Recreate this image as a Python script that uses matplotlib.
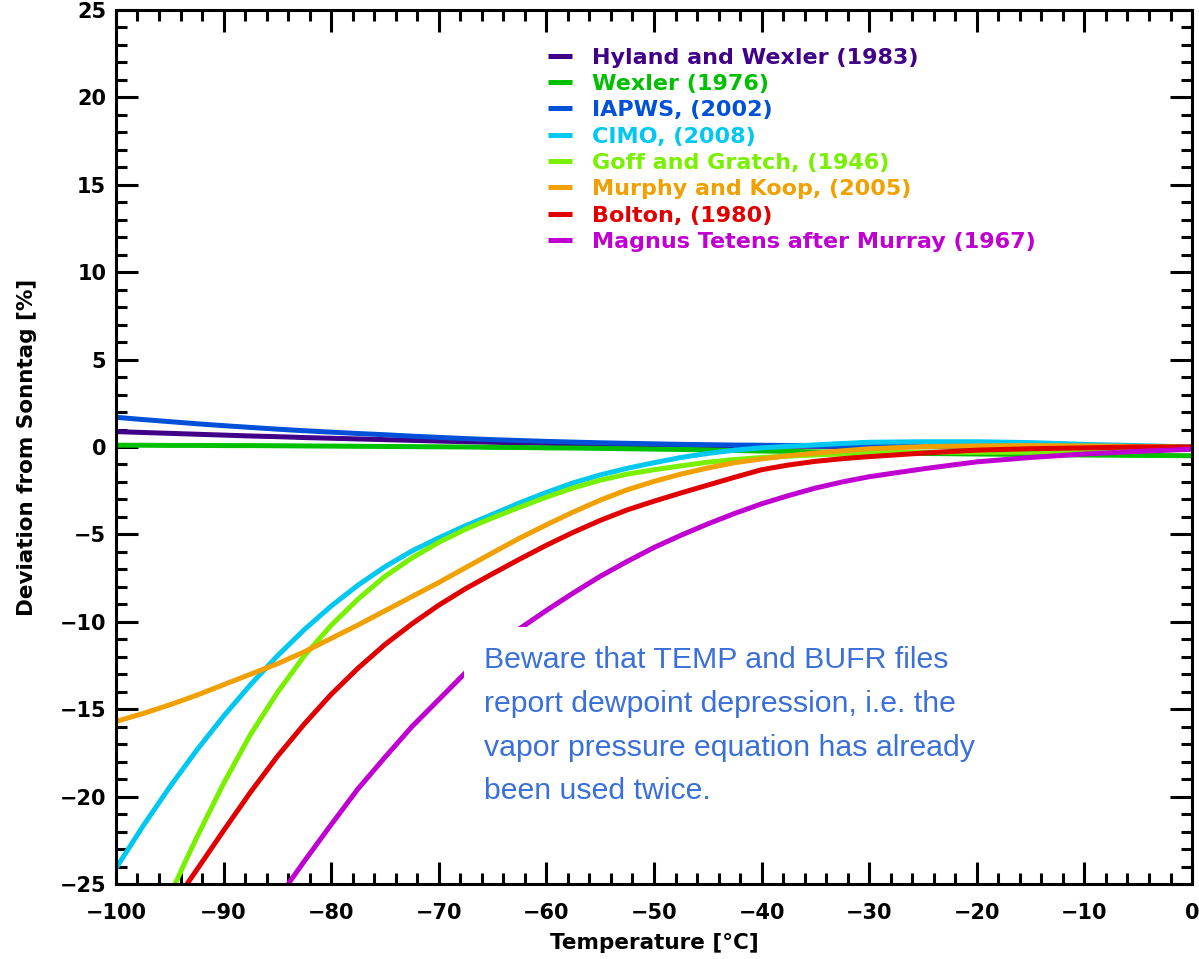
import matplotlib.pyplot as plt
from matplotlib.ticker import MultipleLocator

# ==========================================================
# 1. Data (deviation from Sonntag in %)
# ==========================================================
# 2.5 degree steps down to -30, then 5 degree steps to 0
temp_full = [-100, -97.5, -95, -92.5, -90, -87.5, -85, -82.5, -80, -77.5,
             -75, -72.5, -70, -67.5, -65, -62.5, -60, -57.5, -55, -52.5,
             -50, -47.5, -45, -42.5, -40, -37.5, -35, -32.5, -30,
             -25, -20, -15, -10, -5, 0]

hyland_wexler = [0.88, 0.83, 0.78, 0.73, 0.68, 0.63, 0.59, 0.54, 0.5, 0.46,
                 0.42, 0.38, 0.34, 0.3, 0.27, 0.24, 0.21, 0.18, 0.16, 0.14,
                 0.12, 0.1, 0.09, 0.07, 0.06, 0.05, 0.04, 0.035, 0.03,
                 0.02, 0.01, 0.0, 0.0, 0.0, 0.0]
wexler = [0.1, 0.1, 0.09, 0.09, 0.08, 0.08, 0.07, 0.06, 0.05, 0.04,
          0.03, 0.02, 0.01, 0.0, -0.02, -0.03, -0.05, -0.06, -0.08, -0.1,
          -0.12, -0.14, -0.17, -0.2, -0.23, -0.25, -0.28, -0.3, -0.33,
          -0.37, -0.4, -0.43, -0.46, -0.48, -0.5]
iapws = [1.7, 1.57, 1.45, 1.33, 1.22, 1.12, 1.02, 0.93, 0.85, 0.77,
         0.7, 0.62, 0.55, 0.48, 0.42, 0.37, 0.32, 0.28, 0.24, 0.21,
         0.18, 0.15, 0.13, 0.11, 0.1, 0.085, 0.07, 0.06, 0.05,
         0.03, 0.02, 0.01, 0.0, 0.0, 0.0]
cimo = [-24.1, -21.7, -19.45, -17.35, -15.4, -13.6, -11.95, -10.45, -9.1, -7.9,
        -6.85, -5.95, -5.2, -4.5, -3.85, -3.2, -2.6, -2.05, -1.6, -1.22,
        -0.9, -0.6, -0.37, -0.18, -0.05, 0.04, 0.12, 0.2, 0.27,
        0.3, 0.3, 0.25, 0.15, 0.08, 0.0]
murphy_koop = [-15.7, -15.25, -14.75, -14.2, -13.6, -13.0, -12.4, -11.72, -10.95, -10.18,
               -9.37, -8.56, -7.75, -6.9, -6.05, -5.22, -4.45, -3.72, -3.04, -2.45,
               -1.97, -1.55, -1.2, -0.9, -0.68, -0.5, -0.35, -0.22, -0.1,
               0.02, 0.06, 0.08, 0.06, 0.03, 0.0]

# curves that enter through the bottom edge start where they cross -25 %
temp_goff = [-94.5, -93.5, -92.5, -90, -87.5, -85, -82.5, -80, -77.5, -75,
             -72.5, -70, -67.5, -65, -62.5, -60, -57.5, -55, -52.5, -50,
             -47.5, -45, -42.5, -40, -37.5, -35, -32.5, -30,
             -25, -20, -15, -10, -5, 0]
goff_gratch = [-25.0, -23.65, -22.35, -19.25, -16.45, -14.05, -11.95, -10.2, -8.7, -7.4,
               -6.35, -5.45, -4.7, -4.05, -3.45, -2.87, -2.34, -1.9, -1.55, -1.3,
               -1.08, -0.87, -0.72, -0.6, -0.52, -0.45, -0.4, -0.35,
               -0.3, -0.3, -0.3, -0.25, -0.2, -0.1]

temp_bolton = [-93.4, -92.5, -90, -87.5, -85, -82.5, -80, -77.5, -75, -72.5,
               -70, -67.5, -65, -62.5, -60, -57.5, -55, -52.5, -50, -47.5,
               -45, -42.5, -40, -37.5, -35, -32.5, -30,
               -25, -20, -15, -10, -5, 0]
bolton = [-25.0, -24.2, -21.95, -19.75, -17.7, -15.85, -14.15, -12.65, -11.3, -10.12,
          -9.05, -8.1, -7.25, -6.42, -5.62, -4.88, -4.2, -3.6, -3.1, -2.63,
          -2.18, -1.73, -1.3, -1.03, -0.82, -0.67, -0.55,
          -0.35, -0.18, -0.1, -0.05, 0.0, 0.0]

temp_magnus = [-84, -82.5, -80, -77.5, -75, -72.5, -70, -67.5, -65, -62.5,
               -60, -57.5, -55, -52.5, -50, -47.5, -45, -42.5, -40, -37.5,
               -35, -32.5, -30, -25, -20, -15, -10, -5, 0]
magnus = [-25.0, -23.7, -21.6, -19.55, -17.75, -16.0, -14.45, -12.9, -11.6, -10.4,
          -9.35, -8.35, -7.4, -6.55, -5.75, -5.05, -4.4, -3.8, -3.25, -2.78,
          -2.35, -2.0, -1.7, -1.25, -0.85, -0.6, -0.4, -0.25, -0.13]

series = [
    ("Hyland and Wexler (1983)", temp_full, hyland_wexler, "#400088"),
    ("Wexler (1976)", temp_full, wexler, "#00C000"),
    ("IAPWS, (2002)", temp_full, iapws, "#0050D8"),
    ("CIMO, (2008)", temp_full, cimo, "#00C8F0"),
    ("Goff and Gratch, (1946)", temp_goff, goff_gratch, "#78F000"),
    ("Murphy and Koop, (2005)", temp_full, murphy_koop, "#F0A000"),
    ("Bolton, (1980)", temp_bolton, bolton, "#E00000"),
    ("Magnus Tetens after Murray (1967)", temp_magnus, magnus, "#C000D0"),
]

note = ("Beware that TEMP and BUFR files\n"
        "report dewpoint depression, i.e. the\n"
        "vapor pressure equation has already\n"
        "been used twice.")

# ==========================================================
# 2. Figure
# ==========================================================
fig = plt.figure(figsize=(11.99, 9.59), dpi=100)
ax = fig.add_axes([0.0967, 0.0782, 0.8975, 0.9114])

for label, t, v, color in series:
    ax.plot(t, v, color=color, linewidth=3.6, label=label,
            solid_capstyle="butt", solid_joinstyle="round")

ax.set_xlim(-100, 0)
ax.set_ylim(-25, 25)

ax.xaxis.set_major_locator(MultipleLocator(10))
ax.xaxis.set_minor_locator(MultipleLocator(2))
ax.yaxis.set_major_locator(MultipleLocator(5))
ax.yaxis.set_minor_locator(MultipleLocator(1))

# IDL style: inward ticks on all four sides
ax.tick_params(which="both", direction="in", top=True, right=True,
               width=2.2, labelsize=15)
ax.tick_params(which="major", length=16)
ax.tick_params(which="minor", length=8)
ax.tick_params(axis="x", which="major", pad=14)
ax.tick_params(axis="y", which="major", pad=7)
for lab in ax.get_xticklabels() + ax.get_yticklabels():
    lab.set_fontweight("bold")

for sp in ax.spines.values():
    sp.set_linewidth(2.2)

ax.set_xlabel("Temperature [°C]", fontsize=15.5, fontweight="bold", labelpad=7)
ax.set_ylabel("Deviation from Sonntag [%]", fontsize=15.5, fontweight="bold",
              labelpad=16)

# ==========================================================
# 3. Legend (coloured text, no frame)
# ==========================================================
ax.legend(
    loc="upper left",
    bbox_to_anchor=(0.4015, 0.957),
    frameon=False,
    labelcolor="linecolor",
    handlelength=1.08,
    handletextpad=0.9,
    labelspacing=0.285,
    borderpad=0,
    borderaxespad=0,
    prop={"size": 16, "weight": "bold"},
)

# ==========================================================
# 4. Note with white background
# ==========================================================
ax.text(
    -65.8, -11.4, note,
    fontsize=21.8,
    family="Liberation Sans",
    color="#3A70D8",
    ha="left",
    va="top",
    linespacing=1.71,
    bbox=dict(boxstyle="square,pad=0.65", facecolor="white", edgecolor="none"),
    zorder=5,
)

fig.savefig("out.png", dpi=100, facecolor="white")
